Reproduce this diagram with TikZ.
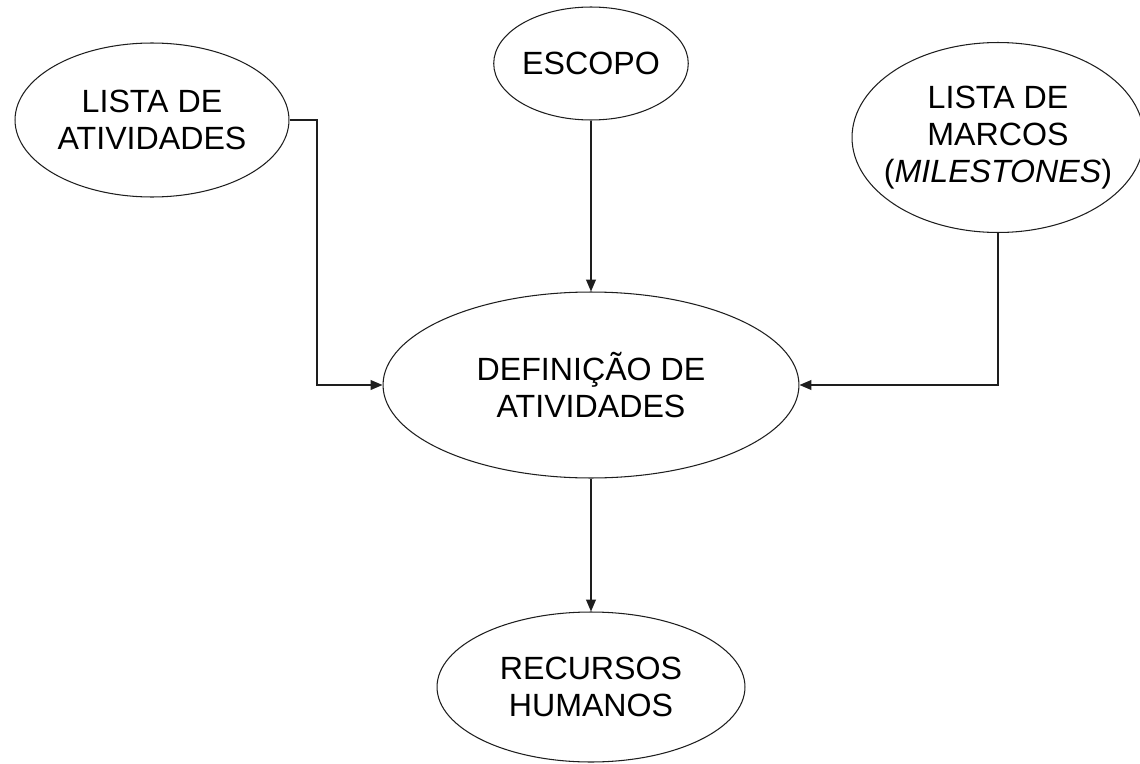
\documentclass[tikz,border=0pt]{standalone}
\usepackage{fontspec}
\setmainfont{Liberation Sans}
\usepackage{tikz}
\usetikzlibrary{positioning}
\usetikzlibrary{calc}
\usetikzlibrary{arrows.meta}
\usetikzlibrary{shapes.geometric}
\definecolor{linegray}{RGB}{30,30,30}

\begin{document}
\begin{tikzpicture}[x=0.02cm, y=-0.02cm]
			\tikzstyle{oval}=[ellipse, draw=linegray, line width=0.6pt, inner sep=0pt, align=center, font=\fontsize{18.3}{21}\selectfont]
			\tikzstyle{arr}=[draw=linegray, line width=0.8pt, -{Triangle[length=6.8pt,width=5.6pt]}]
			
			\useasboundingbox (0,0) rectangle (1140,764);
			
			\draw node at (152, 120) [oval, minimum width=5.48cm, minimum height=3.08cm] (lista) {LISTA DE\\ATIVIDADES};
			\draw node at (591, 63.5) [oval, minimum width=3.8cm, minimum height=2.26cm] (escopo) {ESCOPO};
			\draw node at (998, 137.5) [oval, inner xsep=-12pt, minimum width=5.84cm, minimum height=3.8cm] (marcos) {LISTA DE\\MARCOS\\(\textit{MILESTONES})};
			\draw node at (591, 385) [oval, minimum width=8.32cm, minimum height=3.72cm] (definicao) {DEFINIÇÃO DE\\ATIVIDADES};
			\draw node at (591, 687) [oval, minimum width=6.16cm, minimum height=3.0cm] (recursos) {RECURSOS\\HUMANOS};
			
			\coordinate (kneeA) at (317, 120);
			
			\draw [arr] (lista.east) -- (kneeA) |- (definicao.west);
			\draw [arr] (escopo) -- (definicao);
			\draw [arr] (marcos.south) |- (definicao.east);
			\draw [arr] (definicao) -- (recursos);
\end{tikzpicture}
\end{document}
